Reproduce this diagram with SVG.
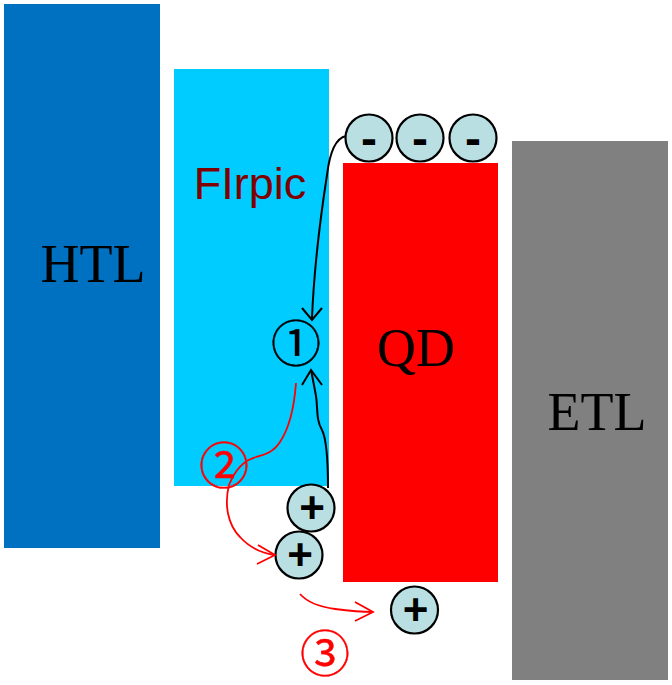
<svg xmlns="http://www.w3.org/2000/svg" width="672" height="685" viewBox="0 0 672 685">
<style>
.lbl{font-family:"Liberation Serif","Times New Roman",serif;font-size:54px;fill:#000;text-anchor:middle}
.chg{fill:#B9DFE3;stroke:#000;stroke-width:2.2}
.sign{font-family:"Liberation Sans",Arial,sans-serif;font-weight:bold;fill:#000;text-anchor:middle}
.minus{font-size:48px}
.plus{font-size:44px}
.num{font-family:"Liberation Serif","Noto Sans CJK SC",serif;font-size:50px;text-anchor:middle;stroke-width:0.4}
.blk{fill:none;stroke:#000;stroke-width:2}
.red{fill:none;stroke:#FF0000;stroke-width:1.8}
</style>
<rect width="672" height="685" fill="#fff"/>
<g id="HTL"><rect x="4" y="4" width="156" height="544" fill="#0070C0"/><text class="lbl" x="93" y="282">HTL</text></g>
<g id="FIrpic"><rect x="174" y="69" width="155" height="417" fill="#00CCFF"/><text x="250" y="199" font-family="Liberation Sans,Arial,sans-serif" font-size="45" fill="#800000" text-anchor="middle">FIrpic</text></g>
<g id="QD"><rect x="343" y="163" width="155" height="419" fill="#FF0000"/><text class="lbl" x="416" y="366" font-size="52">QD</text></g>
<g id="ETL"><rect x="512" y="141" width="156" height="539" fill="#808080"/><text class="lbl" x="597" y="430">ETL</text></g>
<g id="electrons">
<circle class="chg" cx="369" cy="138" r="23.5"/><text class="sign minus" x="369" y="155">-</text>
<circle class="chg" cx="420" cy="138" r="23.5"/><text class="sign minus" x="420" y="155">-</text>
<circle class="chg" cx="473" cy="138" r="23.5"/><text class="sign minus" x="473" y="155">-</text>
</g>
<g id="holes">
<circle class="chg" cx="311" cy="508" r="23.5"/><text class="sign plus" x="312" y="523">+</text>
<circle class="chg" cx="299" cy="555" r="23.5"/><text class="sign plus" x="300" y="570">+</text>
<circle class="chg" cx="414.5" cy="610" r="23.5"/><text class="sign plus" x="415.5" y="625">+</text>
</g>
<g id="labels">
<text class="num" x="296" y="362" fill="#000" stroke="#000">①</text>
<text class="num" x="224" y="484" fill="#FF0000" stroke="#FF0000">②</text>
<text class="num" x="325" y="672" fill="#FF0000" stroke="#FF0000">③</text>
</g>
<g id="connectors">
<path class="blk" d="M346,136 C336,138 330,150 327,175 C320,220 314,270 312,318"/>
<path class="blk" d="M302,308 L312,320 L322,308"/>
<path class="blk" d="M328,488 C328,470 327,440 322,430 C316,420 318,410 316,396 C314,385 312,375 311,370"/>
<path class="blk" d="M302,385 L311,370 L322,385"/>
<path class="red" d="M296,383 C294,410 288,430 280,442 C272,454 262,455 256,457 C244,460 235,470 229,485 C224,505 228,525 240,537 C250,548 262,553 274,555"/>
<path class="red" d="M258,545 L275,555 L257,564"/>
<path class="red" d="M300,594 C308,603 320,607 335,609 C350,611 362,612 373,612"/>
<path class="red" d="M355,602 L373,612 L355,621"/>
</g>
</svg>
